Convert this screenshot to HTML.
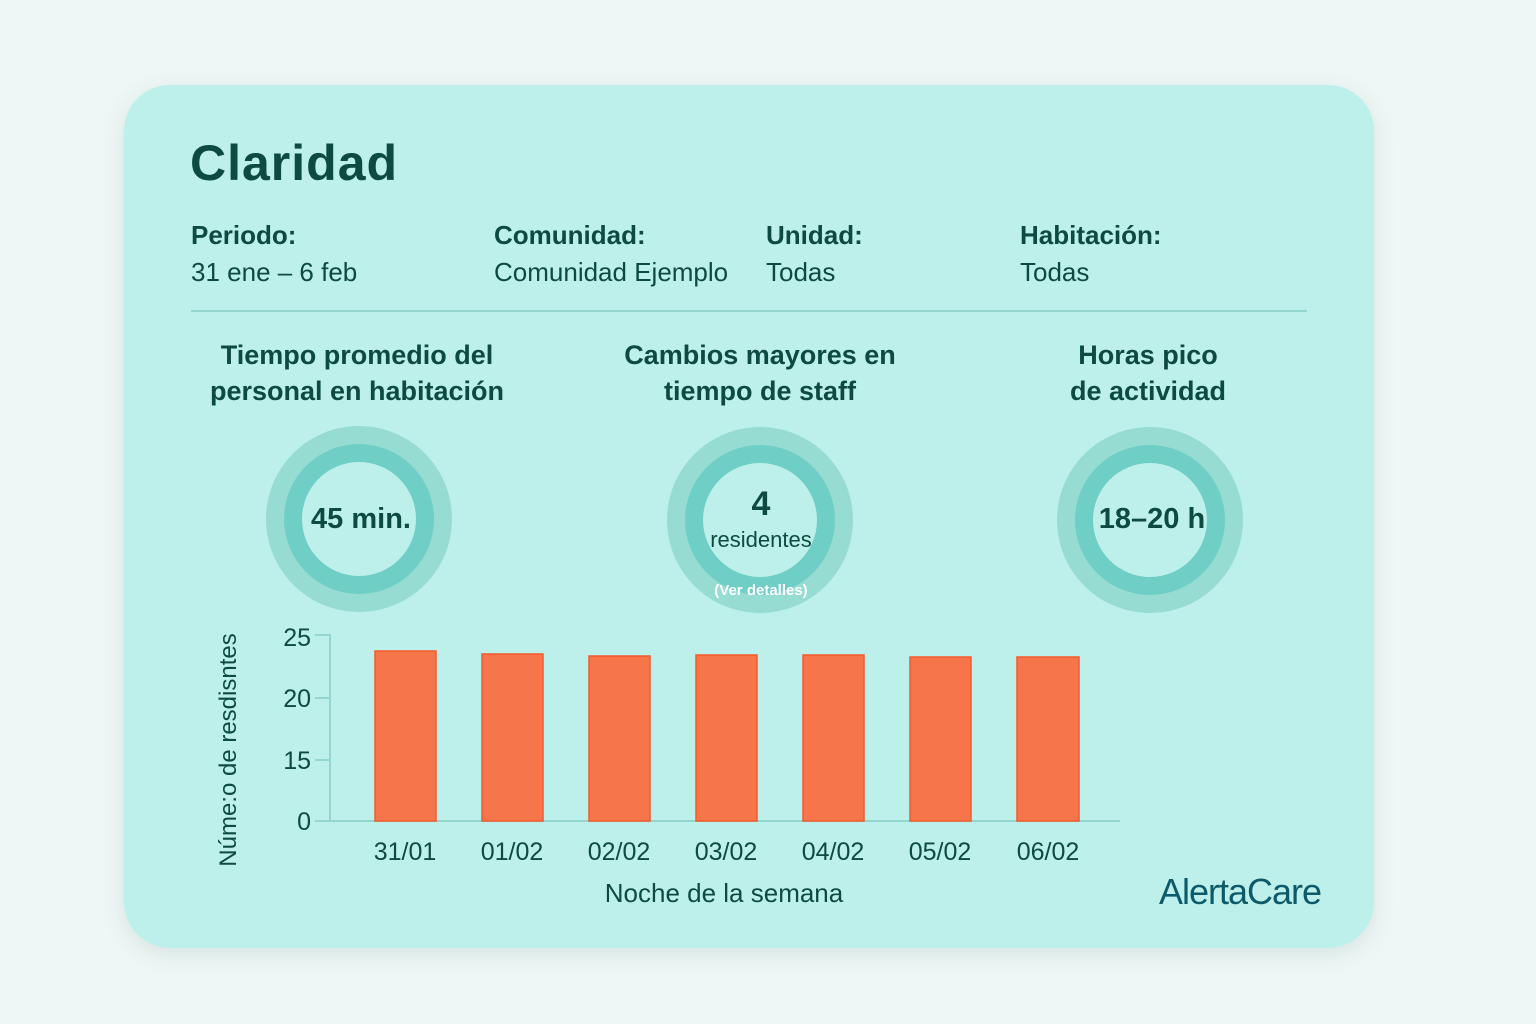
<!DOCTYPE html>
<html><head><meta charset="utf-8"><style>
html,body{margin:0;padding:0;width:1536px;height:1024px;overflow:hidden;background:#eef7f5;font-family:"Liberation Sans",sans-serif;color:#0d4a42}
.card{position:absolute;left:124px;top:85px;width:1250px;height:863px;border-radius:46px;background:#bdf0eb;box-shadow:0 6px 24px rgba(0,60,50,0.10)}
.t{position:absolute;white-space:nowrap}
</style></head><body>
<div class="card"></div>
<div class="t" style="left:190px;top:134px;font-size:50px;font-weight:bold;letter-spacing:1px">Claridad</div>
<div class="t" style="left:191px;top:220px;font-size:26px;font-weight:bold">Periodo:</div>
<div class="t" style="left:191px;top:257px;font-size:26px">31 ene – 6 feb</div>
<div class="t" style="left:494px;top:220px;font-size:26px;font-weight:bold">Comunidad:</div>
<div class="t" style="left:494px;top:257px;font-size:26px">Comunidad Ejemplo</div>
<div class="t" style="left:766px;top:220px;font-size:26px;font-weight:bold">Unidad:</div>
<div class="t" style="left:766px;top:257px;font-size:26px">Todas</div>
<div class="t" style="left:1020px;top:220px;font-size:26px;font-weight:bold">Habitación:</div>
<div class="t" style="left:1020px;top:257px;font-size:26px">Todas</div>
<div style="position:absolute;left:191px;top:310px;width:1116px;height:2px;background:#93d6cd"></div>
<div class="t" style="left:157px;width:400px;top:337px;font-size:27px;font-weight:bold;text-align:center;line-height:36px">Tiempo promedio del<br>personal en habitación</div>
<div class="t" style="left:560px;width:400px;top:337px;font-size:27px;font-weight:bold;text-align:center;line-height:36px">Cambios mayores en<br>tiempo de staff</div>
<div class="t" style="left:948px;width:400px;top:337px;font-size:27px;font-weight:bold;text-align:center;line-height:36px">Horas pico<br>de actividad</div>
<svg width="1536" height="1024" style="position:absolute;left:0;top:0">
<g>
<circle cx="359" cy="519" r="93" fill="#96dcd3"/><circle cx="359" cy="519" r="75" fill="#6fcec5"/><circle cx="359" cy="519" r="57" fill="#bdf0eb"/>
<circle cx="760" cy="520" r="93" fill="#96dcd3"/><circle cx="760" cy="520" r="75" fill="#6fcec5"/><circle cx="760" cy="520" r="57" fill="#bdf0eb"/>
<circle cx="1150" cy="520" r="93" fill="#96dcd3"/><circle cx="1150" cy="520" r="75" fill="#6fcec5"/><circle cx="1150" cy="520" r="57" fill="#bdf0eb"/>
</g>
<g font-family="Liberation Sans, sans-serif" fill="#0d4a42" text-anchor="middle">
<text x="361" y="528" font-size="29" font-weight="bold">45 min.</text>
<text x="761" y="515" font-size="34" font-weight="bold">4</text>
<text x="761" y="547" font-size="22">residentes</text>
<text x="761" y="595" font-size="15" font-weight="bold" fill="#ffffff">(Ver detalles)</text>
<text x="1152" y="528" font-size="29" font-weight="bold">18–20 h</text>
</g>
<g stroke="#93d6cd" stroke-width="2">
<line x1="330" y1="634" x2="330" y2="821"/>
<line x1="315" y1="821" x2="1120" y2="821"/>
<line x1="315" y1="635" x2="330" y2="635"/>
<line x1="315" y1="698" x2="330" y2="698"/>
<line x1="315" y1="760" x2="330" y2="760"/>
</g>
<g fill="#f7754a" stroke="#f45a2c" stroke-width="1.5">
<rect x="375" y="651" width="61" height="170"/>
<rect x="482" y="654" width="61" height="167"/>
<rect x="589" y="656" width="61" height="165"/>
<rect x="696" y="655" width="61" height="166"/>
<rect x="803" y="655" width="61" height="166"/>
<rect x="910" y="657" width="61" height="164"/>
<rect x="1017" y="657" width="62" height="164"/>
</g>
<g font-family="Liberation Sans, sans-serif" fill="#0d4a42" font-size="25" text-anchor="end">
<text x="311" y="646">25</text><text x="311" y="707">20</text><text x="311" y="769">15</text><text x="311" y="830">0</text>
</g>
<g font-family="Liberation Sans, sans-serif" fill="#0d4a42" font-size="25" text-anchor="middle">
<text x="405" y="860">31/01</text><text x="512" y="860">01/02</text><text x="619" y="860">02/02</text><text x="726" y="860">03/02</text><text x="833" y="860">04/02</text><text x="940" y="860">05/02</text><text x="1048" y="860">06/02</text>
<text x="724" y="902" font-size="26">Noche de la semana</text>
<text transform="translate(236,750) rotate(-90)" font-size="24">Núme:o de resdisntes</text>
</g>
<text x="1240" y="904" font-family="Liberation Sans, sans-serif" font-size="36" fill="#0d5a6a" text-anchor="middle" letter-spacing="-1">AlertaCare</text>
</svg>
</body></html>
